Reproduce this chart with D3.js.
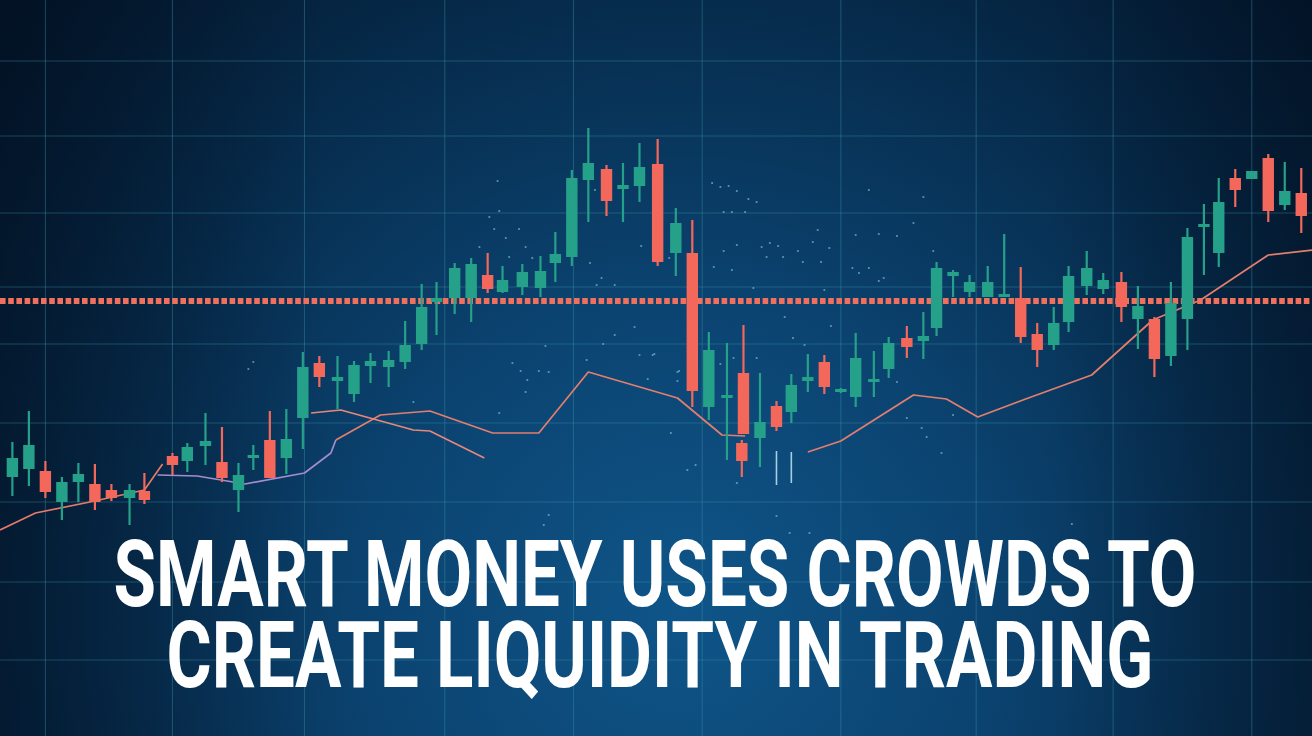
<!DOCTYPE html>
<html>
<head>
<meta charset="utf-8">
<script src="https://cdn.jsdelivr.net/npm/d3@7"></script>
<style>
  html, body { margin: 0; padding: 0; background: #041a2e; overflow: hidden; }
  svg { display: block; }
</style>
</head>
<body>
<svg id="chart" width="1312" height="736"></svg>
<script>
// ---------------- DATA ----------------
const days   = [0.0,1.0,2.0,3.0,4.0,5.0,6.0,7.1,8.0,9.7,10.6,11.7,12.7,13.7,14.6,15.6,16.6,17.6,18.6,19.7,20.7,21.7,22.8,23.8,24.8,25.7,26.8,27.8,28.8,29.7,30.9,32.0,32.9,33.9,34.9,36.0,37.0,38.0,39.1,40.2,41.2,42.2,43.3,44.3,44.2,45.3,46.3,47.2,48.2,49.2,50.2,51.1,52.2,53.1,54.2,55.2,56.0,57.0,58.0,59.1,60.1,61.1,62.1,63.1,64.0,65.1,66.1,67.2,68.2,69.2,70.2,71.2,72.2,73.1,74.1,75.1,76.1,77.1,78.1];
const opens  = [24.6,26.2,25.8,19.6,23.6,23.2,22.0,20.4,21.8,28.8,27.8,30.8,27.6,22.0,28.4,32.0,28.4,36.4,47.4,43.8,41.2,46.8,46.6,47.6,51.2,59.6,60.4,60.4,65.0,61.6,62.6,62.4,67.4,68.6,84.0,86.2,82.2,82.8,87.2,69.4,69.4,38.6,40.4,45.4,31.4,32.4,38.8,37.6,43.8,47.6,41.6,40.6,43.6,46.2,52.4,51.8,54.4,64.8,61.6,60.6,60.6,60.4,53.2,51.0,55.6,62.8,62.2,63.6,56.2,56.2,48.8,56.2,74.6,69.4,84.4,84.2,88.4,79.0,81.4];
const highs  = [31.6,37.8,27.8,24.6,27.4,27.2,23.2,23.2,25.4,29.4,31.4,37.4,34.6,27.4,31.0,37.8,38.2,49.6,48.8,48.8,47.8,49.4,49.8,55.8,63.2,63.6,67.4,68.4,69.4,66.8,67.2,68.8,73.6,86.0,94.4,87.0,87.4,91.4,92.2,78.4,76.0,53.6,51.4,55.0,32.0,45.4,39.8,45.2,49.2,49.0,42.4,53.4,49.8,52.6,54.8,57.6,67.6,66.0,65.0,66.8,73.2,66.6,55.4,58.6,66.8,69.8,65.4,65.6,62.8,56.6,63.6,74.4,79.2,84.4,86.2,85.8,89.2,87.6,86.4];
const lows   = [20.8,22.8,20.4,16.0,19.6,18.0,19.8,15.0,19.2,25.0,25.6,27.0,23.6,17.6,26.0,24.4,25.2,30.2,42.6,38.2,39.6,43.4,42.6,46.2,50.0,53.0,57.2,55.6,61.4,61.4,61.0,60.6,63.6,66.8,75.6,76.8,75.6,79.6,66.8,64.8,38.6,36.0,28.0,33.2,24.6,26.6,33.8,35.4,41.6,41.2,41.4,38.6,40.6,44.4,48.4,48.2,52.8,60.6,60.6,60.6,60.6,51.4,46.6,50.0,53.6,61.0,61.2,55.6,50.2,44.6,46.8,50.0,65.0,66.6,78.6,84.2,75.6,78.0,73.4];
const closes = [28.4,31.0,21.6,23.6,25.2,19.6,20.4,22.0,20.0,27.0,30.6,31.8,24.4,25.0,29.0,24.4,32.2,46.6,44.6,44.6,47.0,47.8,48.0,51.0,58.6,60.4,66.4,67.2,62.2,64.0,65.6,65.8,69.2,84.4,87.4,79.8,83.0,86.6,67.6,75.4,41.8,50.0,41.0,33.2,27.8,35.6,34.6,43.0,44.6,42.6,42.2,48.4,44.2,51.4,50.6,52.8,66.4,65.6,63.6,63.6,61.2,52.6,50.0,55.4,64.8,66.4,64.0,58.6,58.8,48.2,59.4,72.6,75.2,79.6,82.0,85.8,77.8,81.8,76.8];

// Liquidity level (dashed line)
const liquidityLevel = 59.8;

// Moving-average style lines: [day, price]
const maLeftDays   = [-0.75, 1.4, 4.7, 8.0, 9.1];
const maLeftVals   = [14.0, 17.4, 19.6, 22.0, 27.2];
const maLilacDays  = [8.8, 11.2, 14.1, 17.7, 19.3, 19.6];
const maLilacVals  = [25.0, 24.8, 23.2, 25.4, 29.4, 32.0];
const maMidDays    = [19.6, 22.3, 25.3, 29.1, 31.9, 34.9, 40.3, 43.0, 44.4];
const maMidVals    = [32.0, 37.0, 37.8, 33.4, 33.4, 45.6, 40.4, 33.0, 32.8];
const maRightDays  = [48.2, 50.2, 54.6, 56.6, 58.5, 61.4, 65.4, 69.1, 72.0, 76.1, 78.8];
const maRightVals  = [29.6, 31.8, 41.0, 40.2, 36.6, 40.2, 45.0, 56.0, 60.0, 69.0, 70.0];
const maFastDays   = [18.1, 19.9, 22.1, 24.3, 25.3, 28.6];
const maFastVals   = [37.4, 38.0, 36.0, 34.0, 33.8, 28.4];

// thin light-blue marker ticks
const markerDays  = [46.3, 47.2];
const markerHighs = [29.8, 29.6];
const markerLows  = [23.0, 23.4];

// scattered sparkle dots [day, price]
const dotDays = [29.4,29.5,28.9,29.2,30.7,29.9,28.3,31.1,30.1,31.5,35.3,38.1,39.8,35.0,35.7,35.4,36.5,37.7,36.5,35.8,32.3,30.3,34.8,38.0,38.8,40.4,30.8,31.9,32.5,38.5,31.2,40.3,31.1,24.3,29.5,39.9,42.9,43.4,43.9,42.4,44.6,45.1,43.1,43.6,44.4,55.2,51.9,54.6,51.1,52.5,53.6,45.9,48.5,48.8,43.9,45.4,43.1,46.4,47.6,46.7,49.5,45.7,47.9,49.0,42.5,43.6,50.9,51.9,55.8,51.3,52.8,52.5,44.9,49.2,46.8,49.6,47.3,48.0,38.9,40.3,42.9,45.1,43.7,53.6,54.2,57.0,55.1,55.4,56.3,40.9,41.4,43.9,32.5,32.2,46.3,47.1,48.3,64.2,14.6,14.3];
const dotVals = [83.8,77.8,76.6,74.2,74.2,72.4,70.6,70.6,68.6,68.4,82.0,70.8,68.4,67.4,64.4,63.0,63.0,54.6,53.0,51.2,50.8,47.4,48.0,49.0,49.0,45.8,45.8,45.8,45.6,44.2,44.0,43.8,41.6,39.6,37.4,33.4,82.6,82.8,81.8,83.4,80.2,79.6,77.6,77.6,77.6,80.6,82.0,75.4,73.0,73.2,72.8,71.4,71.6,74.0,71.0,70.6,69.8,70.8,69.8,68.6,70.4,68.6,67.6,67.6,66.6,66.0,66.4,66.4,69.8,65.4,64.4,63.8,62.4,62.0,56.6,54.8,52.4,51.0,49.2,45.6,47.2,48.4,48.4,43.6,36.4,37.0,34.4,32.6,29.4,26.0,27.0,23.4,17.0,15.0,16.8,13.4,13.4,15.2,47.6,46.2];

// grid tick values
const xGridTicks = [2.0, 9.7, 17.7, 26.2, 34.0, 41.8, 50.2, 58.4, 66.7, 75.1];
const yGridTicks = [107.8, 92.8, 77.4, 62.6, 51.2, 35.4, 19.6, 3.6, -12.0];

// title
const titleLines = ["SMART MONEY USES CROWDS TO", "CREATE LIQUIDITY IN TRADING"];

// ---------------- DRAWING ----------------
const W = 1312, H = 736;
const svg = d3.select("#chart");
const x = d3.scaleLinear().domain([-0.75, 78.75]).range([0, W]);
const y = d3.scaleLinear().domain([0, 100]).range([600, 100]);

const defs = svg.append("defs");
const bg = defs.append("radialGradient").attr("id", "bg")
  .attr("gradientUnits", "userSpaceOnUse")
  .attr("cx", 680).attr("cy", 610).attr("r", 900);
bg.append("stop").attr("offset", "0").attr("stop-color", "#0f5589");
bg.append("stop").attr("offset", "0.35").attr("stop-color", "#0b4370");
bg.append("stop").attr("offset", "0.7").attr("stop-color", "#062a4a");
bg.append("stop").attr("offset", "1").attr("stop-color", "#03152a");

const vig = defs.append("linearGradient").attr("id", "vig").attr("x1", 0).attr("x2", 1).attr("y1", 0).attr("y2", 0);
vig.append("stop").attr("offset", "0").attr("stop-color", "#020d1c").attr("stop-opacity", 0.45);
vig.append("stop").attr("offset", "0.25").attr("stop-color", "#020d1c").attr("stop-opacity", 0);
vig.append("stop").attr("offset", "0.8").attr("stop-color", "#020d1c").attr("stop-opacity", 0);
vig.append("stop").attr("offset", "1").attr("stop-color", "#020d1c").attr("stop-opacity", 0.4);

svg.append("rect").attr("width", W).attr("height", H).attr("fill", "url(#bg)");
svg.append("rect").attr("width", W).attr("height", H).attr("fill", "url(#vig)");

// grid
const grid = svg.append("g").attr("stroke", "#3a90a6").attr("stroke-opacity", 0.4).attr("stroke-width", 1.1);
grid.selectAll("line.v").data(xGridTicks).join("line").attr("class", "v")
  .attr("x1", d => x(d)).attr("x2", d => x(d)).attr("y1", 0).attr("y2", H);
grid.selectAll("line.h").data(yGridTicks).join("line").attr("class", "h")
  .attr("x1", 0).attr("x2", W).attr("y1", d => y(d)).attr("y2", d => y(d));

// dots
svg.append("g").selectAll("circle").data(dotDays.map((d, i) => [d, dotVals[i]])).join("circle")
  .attr("cx", d => x(d[0])).attr("cy", d => y(d[1])).attr("r", 1.1)
  .attr("fill", "#86c6dd").attr("fill-opacity", 0.65);

// MA lines
const line = d3.line().x(d => x(d[0])).y(d => y(d[1]));
const zip = (a, b) => a.map((v, i) => [v, b[i]]);
const maSeries = [
  {pts: zip(maLeftDays, maLeftVals), color: "#e47a6c"},
  {pts: zip(maLilacDays, maLilacVals), color: "#a48ccd"},
  {pts: zip(maMidDays, maMidVals), color: "#e47e6e"},
  {pts: zip(maRightDays, maRightVals), color: "#e47e6e"},
  {pts: zip(maFastDays, maFastVals), color: "#e8877a"}
];
svg.append("g").selectAll("path").data(maSeries).join("path")
  .attr("d", d => line(d.pts)).attr("fill", "none")
  .attr("stroke", d => d.color).attr("stroke-width", 1.7).attr("stroke-linejoin", "round");

// markers
const mk = svg.append("g").attr("stroke", "#a7cfe2").attr("stroke-width", 1.6);
mk.selectAll("line").data(markerDays.map((d, i) => ({d, hi: markerHighs[i], lo: markerLows[i]}))).join("line")
  .attr("x1", m => x(m.d)).attr("x2", m => x(m.d)).attr("y1", m => y(m.hi)).attr("y2", m => y(m.lo));

// liquidity dashed line
svg.append("line")
  .attr("x1", 0).attr("x2", W).attr("y1", y(liquidityLevel)).attr("y2", y(liquidityLevel))
  .attr("stroke", "#f0705e").attr("stroke-width", 6).attr("stroke-dasharray", "5.6 2.6");

// candles
const candles = days.map((d, i) => ({d, o: opens[i], h: highs[i], l: lows[i], c: closes[i]}));
const green = "#26a189", red = "#f3685b";
const cg = svg.append("g");
const g = cg.selectAll("g").data(candles).join("g");
g.append("line")
  .attr("x1", c => x(c.d)).attr("x2", c => x(c.d))
  .attr("y1", c => y(c.h)).attr("y2", c => y(c.l))
  .attr("stroke", c => c.c >= c.o ? green : red).attr("stroke-width", 2.2);
g.append("rect")
  .attr("x", c => x(c.d) - 5.7).attr("width", 11.4)
  .attr("y", c => y(Math.max(c.o, c.c)))
  .attr("height", c => Math.max(2.5, Math.abs(y(c.o) - y(c.c))))
  .attr("fill", c => c.c >= c.o ? green : red);

// title: one text element, two lines, horizontally condensed via transform
const fontSize = 92;
const targets = [{cx: 655, base: 606, w: 1086}, {cx: 660, base: 687, w: 984}];
const measure = svg.append("text").style("font-family", "Roboto, 'Liberation Sans', sans-serif")
  .style("font-weight", 700).attr("font-size", fontSize).attr("opacity", 0);
const natural = titleLines.map(s => { measure.text(s); return measure.node().getComputedTextLength(); });
measure.remove();
const sx = (targets[0].w / natural[0] + targets[1].w / natural[1]) / 2;

const title = svg.append("text")
  .attr("transform", `scale(${sx},1)`)
  .attr("fill", "#ffffff").attr("text-anchor", "middle")
  .style("font-family", "Roboto, 'Liberation Sans', sans-serif").style("font-weight", 700)
  .attr("font-size", fontSize);
title.selectAll("tspan").data(titleLines).join("tspan")
  .attr("x", (d, i) => targets[i].cx / sx)
  .attr("y", (d, i) => targets[i].base)
  .text(d => d);
</script>
</body>
</html>
